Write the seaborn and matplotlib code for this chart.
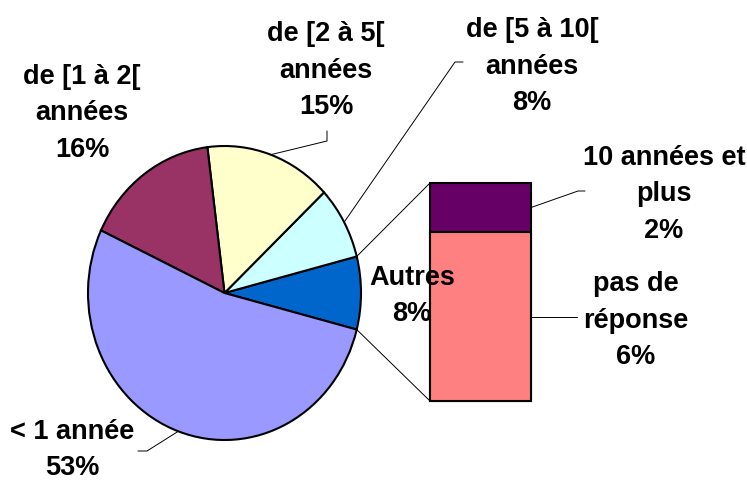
import numpy as np
import matplotlib
matplotlib.use("Agg")
import matplotlib.pyplot as plt
import seaborn as sns

# ---- data ----
pie_labels = ["Autres", "de [5 à 10[\nannées", "de [2 à 5[\nannées", "de [1 à 2[\nannées", "< 1 année"]
pie_values = [8, 8, 15, 16, 53]
pie_colors = ["#0066CC", "#CCFFFF", "#FFFFCC", "#993366", "#9999FF"]

bar_labels = ["pas de\nréponse", "10 années et\nplus"]
bar_values = [6.2, 1.8]
bar_colors = ["#FF8080", "#660066"]

# ---- style ----
sns.set_theme(style="white")
plt.rcParams["font.family"] = ["Liberation Sans", "DejaVu Sans"]

W, H = 747, 481
fig = plt.figure(figsize=(W / 100, H / 100), dpi=100)
fig.patch.set_facecolor("white")

def frac_box(x0, y0, x1, y1):
    # pixel box (top-down) -> figure fraction rect
    return [x0 / W, 1 - y1 / H, (x1 - x0) / W, (y1 - y0) / H]

# ---- pie ----
ax_pie = fig.add_axes(frac_box(88, 147, 361, 441))
start = -pie_values[0] / sum(pie_values) * 360 / 2
wedges, _ = ax_pie.pie(pie_values, colors=pie_colors, startangle=start,
                       counterclock=True, radius=1,
                       wedgeprops=dict(edgecolor="black", linewidth=1.5))
ax_pie.set_aspect("auto")
ax_pie.set_xlim(-1, 1)
ax_pie.set_ylim(-1, 1)
ax_pie.axis("off")
for w in wedges:
    w.set_clip_on(False)

# ---- stacked bar (seaborn) ----
ax_bar = fig.add_axes(frac_box(430, 184, 531, 402))
cat = ["Autres"]
sns.barplot(x=cat, y=[bar_values[0] + bar_values[1]], color=bar_colors[1],
            saturation=1, edgecolor="black", linewidth=1.5, ax=ax_bar)
sns.barplot(x=cat, y=[bar_values[0]], color=bar_colors[0],
            saturation=1, edgecolor="black", linewidth=1.5, ax=ax_bar)
ax_bar.set_xlim(-0.4, 0.4)
ax_bar.set_ylim(0, sum(bar_values))
ax_bar.axis("off")
for p in ax_bar.patches:
    p.set_clip_on(False)

# ---- overlay in pixel coordinates ----
ax_ov = fig.add_axes([0, 0, 1, 1])
ax_ov.set_xlim(0, W)
ax_ov.set_ylim(H, 0)
ax_ov.axis("off")
ax_ov.set_zorder(10)
ax_ov.patch.set_alpha(0)

def to_ov(ax, pt):
    return ax_ov.transData.inverted().transform(ax.transData.transform(pt))

# connectors pie -> bar
w0 = wedges[0]
for ang, by in [(w0.theta2, sum(bar_values)), (w0.theta1, 0)]:
    a = np.deg2rad(ang)
    p1 = to_ov(ax_pie, (np.cos(a), np.sin(a)))
    p2 = to_ov(ax_bar, (-0.4, by))
    ax_ov.plot([p1[0], p2[0]], [p1[1], p2[1]], color="black", lw=0.7)

def edge_pt(i):
    w = wedges[i]
    a = np.deg2rad((w.theta1 + w.theta2) / 2)
    return to_ov(ax_pie, (np.cos(a), np.sin(a)))

# leader lines
lw_lead = 0.7
p = edge_pt(2)
ax_ov.plot([p[0], 327, 327], [p[1], 142, 132], color="black", lw=lw_lead)
p = edge_pt(1)
ax_ov.plot([p[0], 455, 463], [p[1], 63, 63], color="black", lw=lw_lead)
p = edge_pt(4)
ax_ov.plot([p[0], 147, 138], [p[1], 452, 452], color="black", lw=lw_lead)
p = to_ov(ax_bar, (0.4, bar_values[0] + bar_values[1] / 2))
ax_ov.plot([p[0], 578, 585], [p[1], 192, 192], color="black", lw=lw_lead)
p = to_ov(ax_bar, (0.4, bar_values[0] / 2))
ax_ov.plot([p[0], 577], [p[1], p[1]], color="black", lw=lw_lead)

# labels
FS = 19.5
LS = 36.5

def put(text, x, y0):
    for i, line in enumerate(text.split("\n")):
        ax_ov.text(x, y0 + i * LS, line, ha="center", va="baseline",
                   fontsize=FS, fontweight="bold", color="black")

pie_pos = [(412, 285), (532, 37), (326, 41), (82, 84), (72, 439)]
for lab, v, (x, y) in zip(pie_labels, pie_values, pie_pos):
    put(f"{lab}\n{v:.0f}%", x, y)

bar_pos = [(636, 291.5), (664, 165)]
for lab, v, (x, y) in zip(bar_labels, bar_values, bar_pos):
    put(f"{lab}\n{v:.0f}%", x, y)

fig.savefig("out.png", dpi=100)
